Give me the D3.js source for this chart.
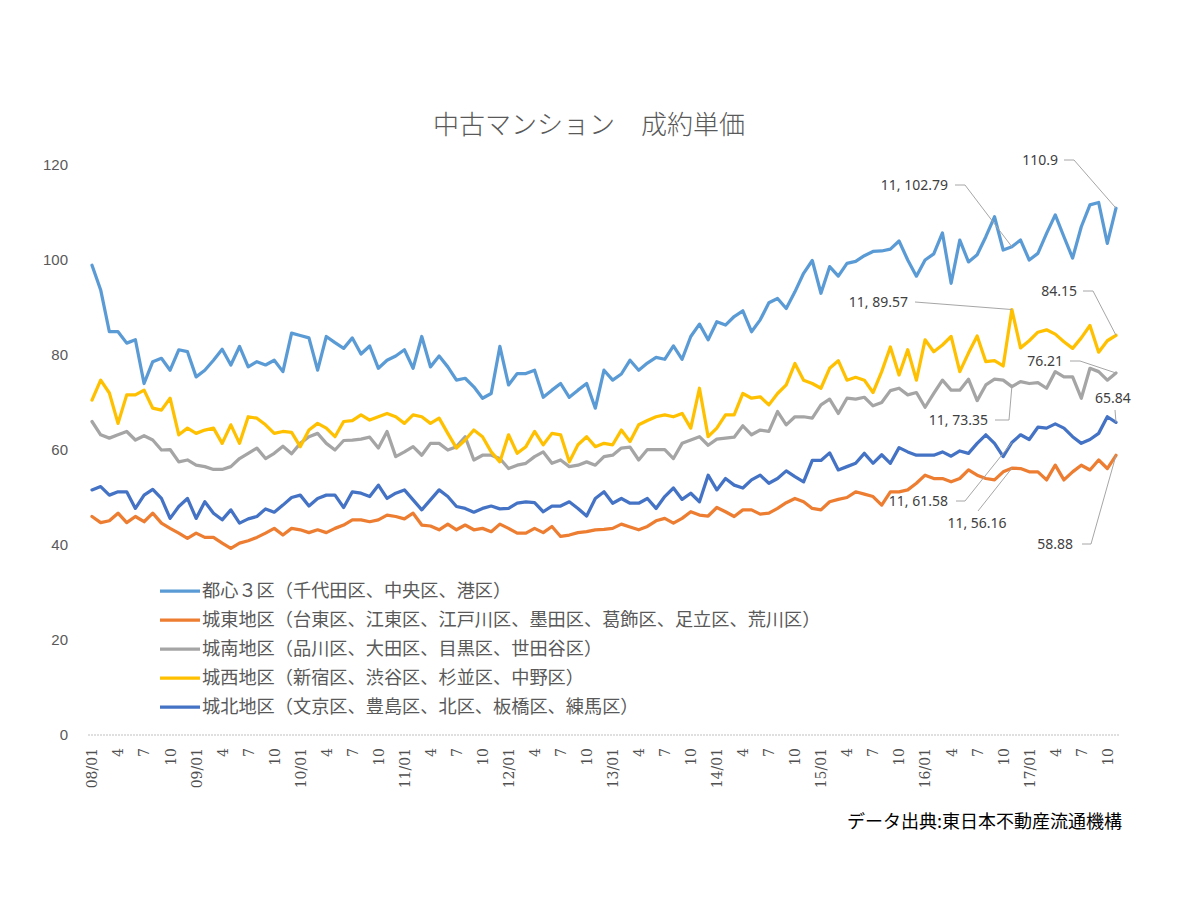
<!DOCTYPE html>
<html>
<head>
<meta charset="utf-8">
<script src="https://cdn.jsdelivr.net/npm/d3@7"></script>
<style>
  body { margin: 0; background: #fff; }
  svg { display: block; }
</style>
</head>
<body>
<script>
// months 08/01 .. 17/11
var years = ["08", "09", "10", "11", "12", "13", "14", "15", "16", "17"];
var months = ["01","02","03","04","05","06","07","08","09","10","11","12"];
var categories = [];
years.forEach(function(yy) {
  months.forEach(function(mm) { categories.push(yy + "/" + mm); });
});
categories = categories.slice(0, 119);

var seriesNames = [
  "都心３区（千代田区、中央区、港区）",
  "城東地区（台東区、江東区、江戸川区、墨田区、葛飾区、足立区、荒川区）",
  "城南地区（品川区、大田区、目黒区、世田谷区）",
  "城西地区（新宿区、渋谷区、杉並区、中野区）",
  "城北地区（文京区、豊島区、北区、板橋区、練馬区）"
];

var tosin3 = [98.9,93.7,84.9,84.9,82.5,83.2,74.0,78.6,79.3,76.8,81.1,80.7,75.4,76.8,78.9,81.2,77.9,81.8,77.5,78.6,
  77.9,78.9,76.5,84.6,84.1,83.6,76.8,83.9,82.6,81.4,83.6,80.2,81.9,77.2,78.9,79.8,81.1,77.2,83.9,77.5,
  79.8,77.5,74.7,75.1,73.3,70.9,71.9,81.8,73.7,76.1,76.1,76.8,71.1,72.6,74.0,71.1,72.6,74.0,68.8,76.8,
  74.7,76.0,78.9,76.8,78.3,79.5,79.1,81.9,79.1,83.9,86.5,83.2,87.0,86.3,88.1,89.3,84.9,87.4,91.0,91.9,
  89.8,93.3,97.2,99.9,93.0,98.6,96.6,99.3,99.7,100.9,101.8,101.9,102.3,104.0,100.0,96.6,100.0,101.3,105.7,95.1,
  104.2,99.6,101.1,104.9,109.1,102.1,102.79,104.2,100.0,101.4,105.6,109.5,104.9,100.4,107.0,111.6,112.1,103.5,110.9];

var joto = [46.0,44.7,45.1,46.7,44.7,46.0,44.9,46.7,44.6,43.5,42.5,41.4,42.5,41.6,41.6,40.4,39.3,40.4,40.9,41.6,
  42.5,43.5,42.1,43.5,43.2,42.6,43.2,42.6,43.5,44.2,45.3,45.3,44.9,45.3,46.3,46.0,45.5,46.7,44.2,44.0,
  43.2,44.4,43.2,44.2,43.2,43.5,42.8,44.4,43.5,42.5,42.5,43.5,42.6,43.9,41.8,42.1,42.6,42.8,43.2,43.3,
  43.5,44.4,43.8,43.2,43.9,45.1,45.6,44.6,45.6,47.0,46.3,46.1,47.9,47.0,46.0,47.4,47.4,46.5,46.7,47.7,
  48.9,49.8,49.1,47.7,47.4,49.1,49.6,50.0,51.2,50.7,50.2,48.4,51.2,51.2,51.6,53.0,54.7,54.0,54.0,53.3,
  54.0,55.8,54.7,54.0,53.7,55.4,56.16,56.1,55.4,55.4,53.7,56.8,53.7,55.4,56.8,55.8,57.9,56.1,58.88];

var jonan = [66.0,63.2,62.5,63.2,63.9,62.1,63.0,62.1,60.0,60.1,57.5,57.9,56.8,56.5,55.9,55.9,56.5,58.2,59.3,60.4,
  58.2,59.3,60.8,59.2,61.4,62.8,63.5,61.4,60.0,62.0,62.1,62.3,62.7,60.4,63.9,58.6,59.6,60.7,58.9,61.4,
  61.4,60.0,60.7,62.8,57.9,58.9,58.9,58.2,56.1,56.8,57.2,58.6,59.6,57.2,57.9,56.5,56.8,57.5,56.8,58.6,
  58.9,60.4,60.6,57.9,60.1,60.1,60.1,58.2,61.4,62.1,62.8,61.0,62.3,62.5,62.7,65.1,63.2,64.2,63.9,68.1,
  65.3,67.0,67.0,66.7,69.5,70.7,67.7,70.9,70.7,71.1,69.3,70.0,72.5,73.0,71.6,72.1,69.0,71.9,74.7,72.6,
  72.6,74.9,70.4,73.7,74.9,74.7,73.35,74.4,74.0,74.2,73.0,76.5,75.4,75.4,70.9,77.2,76.5,74.7,76.21];

var josei = [70.5,74.7,72.0,65.6,71.6,71.6,72.6,68.8,68.4,70.9,63.2,64.6,63.5,64.2,64.6,61.4,65.3,61.4,67.0,66.7,
  65.3,63.5,63.9,63.7,60.7,64.2,65.6,64.6,62.8,66.0,66.2,67.4,66.3,67.0,67.7,67.0,65.6,67.4,67.0,65.6,
  66.7,63.5,60.4,62.1,64.2,62.8,59.6,57.5,63.2,59.3,60.7,63.9,61.1,63.5,63.2,57.5,61.1,62.8,60.7,61.4,
  61.1,64.2,61.8,65.3,66.2,67.0,67.4,67.0,67.7,64.6,73.0,62.8,64.6,67.4,67.4,71.9,70.9,71.2,69.5,71.9,
  73.7,78.2,74.7,74.0,73.0,77.2,78.8,74.7,75.3,74.7,72.1,76.5,81.7,75.8,81.1,74.7,83.2,80.7,82.1,83.9,
  76.5,80.4,84.0,78.6,78.8,77.7,89.57,81.5,83.0,84.8,85.3,84.4,82.8,81.4,83.6,86.2,80.6,83.0,84.15];

var johoku = [51.6,52.3,50.5,51.2,51.2,47.7,50.5,51.7,49.8,45.6,48.1,49.8,45.6,49.1,46.7,45.3,47.4,44.6,45.5,46.0,
  47.6,46.9,48.4,50.0,50.5,48.2,49.8,50.5,50.5,47.9,51.2,50.9,50.2,52.6,49.8,50.9,51.6,49.5,47.4,49.5,
  51.6,50.2,48.1,47.7,46.9,47.7,48.2,47.6,47.7,48.8,49.1,48.9,47.0,48.2,48.2,49.1,47.7,46.1,49.8,51.2,
  48.8,49.8,48.8,48.8,49.8,47.7,50.2,52.0,49.6,50.9,49.1,54.7,51.6,54.0,52.6,52.0,53.7,54.7,53.0,54.0,
  55.6,54.4,53.3,57.8,57.8,59.4,55.8,56.5,57.2,59.3,57.2,59.0,57.2,60.5,59.6,58.9,58.9,58.9,59.6,58.7,
  59.8,59.3,61.4,63.2,61.4,58.6,61.58,63.2,62.2,64.8,64.6,65.5,64.6,62.8,61.4,62.2,63.5,67.0,65.84];

var seriesValues = [tosin3, joto, jonan, josei, johoku];
var colors = ["#5b9bd5", "#ed7d31", "#a5a5a5", "#ffc000", "#4472c4"];

var yTicks = [0, 20, 40, 60, 80, 100, 120];

// data labels: series index, category index, text
var labelSeries = [0, 0, 3, 3, 2, 2, 4, 4, 1, 1];
var labelIndex = [106, 118, 106, 118, 106, 118, 106, 118, 106, 118];
var labelText = ["11, 102.79", "110.9", "11, 89.57", "84.15", "11, 73.35", "76.21", "11, 61.58", "65.84", "11, 56.16", "58.88"];

// label placement (text anchor point, leader start, leader knee)
var labelLayout = [
  {tx: 948, ty: 185, anchor: "end", sx: 955, sy: 185, kx: 965, ky: 185},
  {tx: 1058, ty: 160, anchor: "end", sx: 1064, sy: 160, kx: 1074, ky: 160},
  {tx: 908, ty: 302, anchor: "end", sx: 915, sy: 302, kx: 915, ky: 302},
  {tx: 1077, ty: 291, anchor: "end", sx: 1083, sy: 291, kx: 1093, ky: 291},
  {tx: 988, ty: 420, anchor: "end", sx: 995, sy: 420, kx: 1009, ky: 420},
  {tx: 1063, ty: 361, anchor: "end", sx: 1070, sy: 361, kx: 1080, ky: 361},
  {tx: 948, ty: 501, anchor: "end", sx: 956, sy: 501, kx: 965, ky: 501},
  {tx: 1113, ty: 398, anchor: "middle", sx: 1115, sy: 410, kx: 1115, ky: 410},
  {tx: 977, ty: 523, anchor: "middle", sx: 978, sy: 511, kx: 978, ky: 511},
  {tx: 1073, ty: 544, anchor: "end", sx: 1082, sy: 544, kx: 1091, ky: 544}
];

var width = 1200, height = 900;

var svg = d3.select("body").append("svg")
    .attr("width", width)
    .attr("height", height)
    .style("font-family", "'Noto Sans CJK JP', 'Noto Sans', sans-serif");

svg.append("rect").attr("width", width).attr("height", height).attr("fill", "#fff");

var x = d3.scalePoint()
    .domain(categories)
    .range([92, 1116]);
var y = d3.scaleLinear()
    .domain([0, 120])
    .range([735, 165]);

// title
svg.append("text")
    .attr("x", 589)
    .attr("y", 134)
    .attr("text-anchor", "middle")
    .attr("fill", "#595959")
    .style("font-size", "26px")
    .style("font-weight", 300)
    .text("中古マンション　成約単価");

// baseline
svg.append("line")
    .attr("x1", 88).attr("x2", 1120)
    .attr("y1", y(0)).attr("y2", y(0))
    .attr("stroke", "#bfbfbf")
    .attr("stroke-width", 1)
    .attr("stroke-dasharray", "2,1");

// y axis
var yAxis = svg.append("g")
    .attr("transform", "translate(72,0)")
    .call(d3.axisLeft(y).tickValues(yTicks).tickSize(0).tickPadding(4));
yAxis.select(".domain").remove();
yAxis.selectAll("text")
    .attr("fill", "#595959")
    .style("font-family", "'Liberation Sans', Arial, sans-serif")
    .style("font-size", "15px");

// x axis
var xAxis = svg.append("g")
    .attr("transform", "translate(0," + y(0) + ")")
    .call(d3.axisBottom(x)
      .tickValues(categories.filter(function(c, i) { return i % 3 === 0; }))
      .tickSize(0)
      .tickFormat(function(c) {
        var m = c.split("/")[1];
        return m === "01" ? c : String(+m);
      }));
xAxis.select(".domain").remove();
xAxis.selectAll("text")
    .attr("fill", "#505050")
    .style("font-family", "'DejaVu Serif', 'Liberation Serif', serif")
    .style("font-size", "14px")
    .attr("text-anchor", "end")
    .attr("transform", "translate(0,13) rotate(-90)")
    .attr("x", 0)
    .attr("y", 0)
    .attr("dy", "0.35em");

// lines
var line = d3.line()
    .x(function(d, i) { return x(categories[i]); })
    .y(function(d) { return y(d); })
    .curve(d3.curveLinear);

svg.selectAll(".series")
    .data(seriesValues)
    .enter().append("path")
    .attr("class", "series")
    .attr("d", line)
    .attr("fill", "none")
    .attr("stroke", function(d, i) { return colors[i]; })
    .attr("stroke-width", 3.25)
    .attr("stroke-linejoin", "round")
    .attr("stroke-linecap", "round");

// data labels + leader lines
labelText.forEach(function(t, k) {
  var L = labelLayout[k];
  var px = x(categories[labelIndex[k]]);
  var py = y(seriesValues[labelSeries[k]][labelIndex[k]]);
  svg.append("path")
      .attr("d", "M" + L.sx + "," + L.sy + "L" + L.kx + "," + L.ky + "L" + px + "," + py)
      .attr("fill", "none")
      .attr("stroke", "#a6a6a6")
      .attr("stroke-width", 1);
  svg.append("text")
      .attr("x", L.tx)
      .attr("y", L.ty)
      .attr("dy", "0.35em")
      .attr("text-anchor", L.anchor)
      .attr("fill", "#404040")
      .style("font-family", "'Noto Sans', sans-serif")
      .style("font-size", "14px")
      .text(t);
});

// legend
var legend = svg.selectAll(".legend")
    .data(seriesNames)
    .enter().append("g")
    .attr("class", "legend")
    .attr("transform", function(d, i) { return "translate(160," + (591 + i * 29) + ")"; });

legend.append("line")
    .attr("x1", 0).attr("x2", 40)
    .attr("stroke", function(d, i) { return colors[i]; })
    .attr("stroke-width", 3.25);

legend.append("text")
    .attr("x", 42)
    .attr("dy", "0.35em")
    .attr("fill", "#595959")
    .style("font-size", "18.2px")
    .text(function(d) { return d; });

// source
svg.append("text")
    .attr("x", 1122)
    .attr("y", 822)
    .attr("dy", "0.35em")
    .attr("text-anchor", "end")
    .attr("fill", "#000")
    .style("font-size", "18px")
    .text("データ出典:東日本不動産流通機構");
</script>
</body>
</html>
